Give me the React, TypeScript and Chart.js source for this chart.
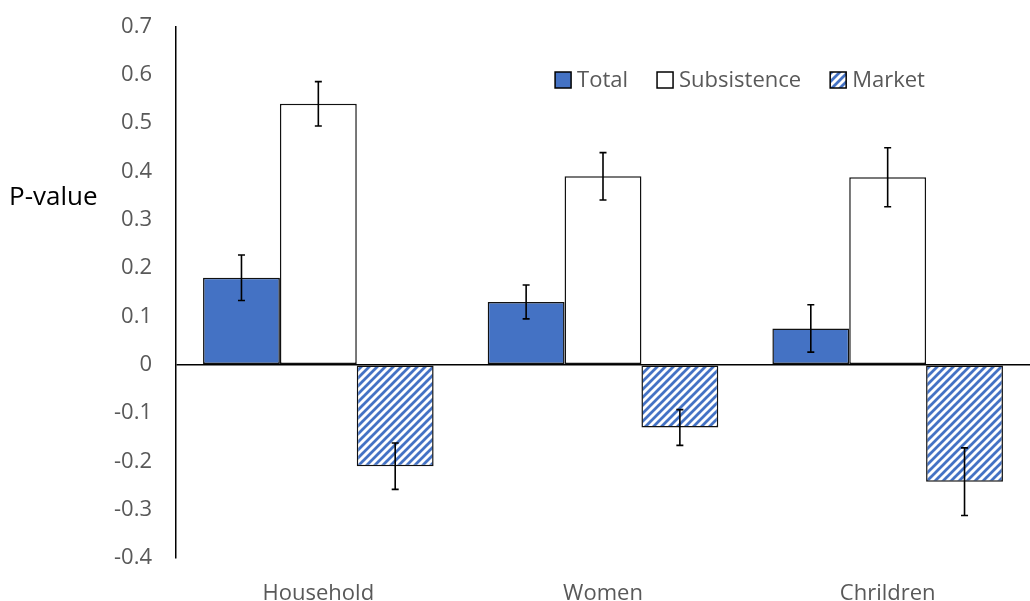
import React, { useEffect, useRef } from "react";
import { Chart, registerables } from "chart.js";

Chart.register(...registerables);

const categories = ["Household", "Women", "Chrildren"];
const seriesNames = ["Total", "Subsistence", "Market"];
const totalValues = [0.18, 0.13, 0.075];
const subsistenceValues = [0.54, 0.39, 0.388];
const marketValues = [-0.21, -0.13, -0.242];
const totalErrors = [0.047, 0.035, 0.049];
const subsistenceErrors = [0.046, 0.049, 0.061];
const marketErrors = [0.048, 0.037, 0.07];
const yTickLabels = ["0.7", "0.6", "0.5", "0.4", "0.3", "0.2", "0.1", "0", "-0.1", "-0.2", "-0.3", "-0.4"];
const yTitle = "P-value";

const BLUE = "#4472C4";
const FONT = "'Open Sans', 'DejaVu Sans', sans-serif";

function makeHatch(): CanvasPattern | string {
  const s = 8;
  const c = document.createElement("canvas");
  c.width = s;
  c.height = s;
  const g = c.getContext("2d");
  if (!g) return BLUE;
  g.fillStyle = "#ffffff";
  g.fillRect(0, 0, s, s);
  g.strokeStyle = BLUE;
  g.lineWidth = 2.8;
  g.beginPath();
  g.moveTo(-s, s * 2);
  g.lineTo(s * 2, -s);
  g.moveTo(-s, s);
  g.lineTo(s, -s);
  g.moveTo(0, s * 2);
  g.lineTo(s * 2, 0);
  g.stroke();
  const p = g.createPattern(c, "repeat");
  return p || BLUE;
}

export default function App() {
  const ref = useRef<HTMLCanvasElement | null>(null);

  useEffect(() => {
    document.body.style.margin = "0";
    const canvas = ref.current;
    if (!canvas) return;
    const hatch = makeHatch();
    const errors = [totalErrors, subsistenceErrors, marketErrors];

    const errorBarPlugin = {
      id: "errorBars",
      afterDatasetsDraw(chart: any) {
        const ctx = chart.ctx;
        const y = chart.scales.y;
        ctx.save();
        ctx.strokeStyle = "#000";
        ctx.lineWidth = 1.6;
        chart.data.datasets.forEach((ds: any, di: number) => {
          const meta = chart.getDatasetMeta(di);
          meta.data.forEach((bar: any, i: number) => {
            const v = ds.data[i];
            const e = errors[di][i];
            const x = bar.x;
            const y1 = y.getPixelForValue(v + e);
            const y2 = y.getPixelForValue(v - e);
            ctx.beginPath();
            ctx.moveTo(x, y1);
            ctx.lineTo(x, y2);
            ctx.moveTo(x - 3.5, y1);
            ctx.lineTo(x + 3.5, y1);
            ctx.moveTo(x - 3.5, y2);
            ctx.lineTo(x + 3.5, y2);
            ctx.stroke();
          });
        });
        ctx.restore();
      },
    };

    const legendPlugin = {
      id: "customLegend",
      afterDraw(chart: any) {
        const ctx = chart.ctx;
        const area = chart.chartArea;
        ctx.save();
        ctx.font = `22px ${FONT}`;
        ctx.textBaseline = "middle";
        const box = 16;
        const gap = 6;
        const spacing = 29;
        const widths = seriesNames.map((n) => ctx.measureText(n).width);
        const total = widths.reduce((a, w) => a + box + gap + w, 0) + spacing * (seriesNames.length - 1);
        const cx = area.left + (740 - 176);
        let x = cx - total / 2;
        const cy = 80;
        chart.data.datasets.forEach((ds: any, i: number) => {
          ctx.fillStyle = ds.backgroundColor;
          ctx.fillRect(x, cy - box / 2, box, box);
          ctx.strokeStyle = "#000";
          ctx.lineWidth = 1.5;
          ctx.strokeRect(x, cy - box / 2, box, box);
          ctx.fillStyle = "#595959";
          ctx.textAlign = "left";
          ctx.fillText(seriesNames[i], x + box + gap, cy + 1);
          x += box + gap + widths[i] + spacing;
        });
        ctx.font = `26px ${FONT}`;
        ctx.fillStyle = "#000";
        ctx.textAlign = "left";
        ctx.fillText(yTitle, 9, 198);
        ctx.restore();
      },
    };

    const chart = new Chart(canvas, {
      type: "bar",
      data: {
        labels: categories,
        datasets: [
          {
            label: seriesNames[0],
            data: totalValues,
            backgroundColor: BLUE,
            borderColor: "#111",
            borderWidth: 1.5,
            borderSkipped: false,
          },
          {
            label: seriesNames[1],
            data: subsistenceValues,
            backgroundColor: "#ffffff",
            borderColor: "#111",
            borderWidth: 1.5,
            borderSkipped: false,
          },
          {
            label: seriesNames[2],
            data: marketValues,
            backgroundColor: hatch as any,
            borderColor: "#111",
            borderWidth: 1.5,
            borderSkipped: false,
          },
        ],
      },
      options: {
        animation: false,
        responsive: true,
        maintainAspectRatio: false,
        layout: { padding: { top: 26.5, right: 0, bottom: 0, left: 0 } },
        datasets: { bar: { barPercentage: 1, categoryPercentage: 0.81 } },
        plugins: {
          legend: { display: false },
          tooltip: { enabled: false },
        },
        scales: {
          x: {
            grid: { display: false },
            border: { display: false },
            ticks: {
              color: "#595959",
              font: { family: FONT, size: 22 },
              padding: 15,
            },
            afterFit(scale: any) {
              scale.height = 43;
            },
          },
          y: {
            min: -0.4,
            max: 0.7,
            ticks: {
              stepSize: 0.1,
              color: "#595959",
              font: { family: FONT, size: 22 },
              padding: 24,
              callback: (value: any) => {
                const idx = Math.round((0.7 - Number(value)) * 10);
                return yTickLabels[idx] ?? "";
              },
            },
            grid: {
              drawTicks: false,
              color: (c: any) =>
                c.tick && Math.abs(c.tick.value) < 1e-9 ? "#000" : "rgba(0,0,0,0)",
              lineWidth: 1.6,
            },
            border: { display: true, color: "#000", width: 1.5 },
            afterFit(scale: any) {
              scale.width = 176;
              scale.paddingTop = 0;
              scale.paddingBottom = 0;
            },
          },
        },
      },
      plugins: [errorBarPlugin, legendPlugin],
    });
    return () => chart.destroy();
  }, []);

  return (
    <div style={{ width: 1030, height: 601, position: "relative", background: "#fff" }}>
      <canvas ref={ref} />
    </div>
  );
}
